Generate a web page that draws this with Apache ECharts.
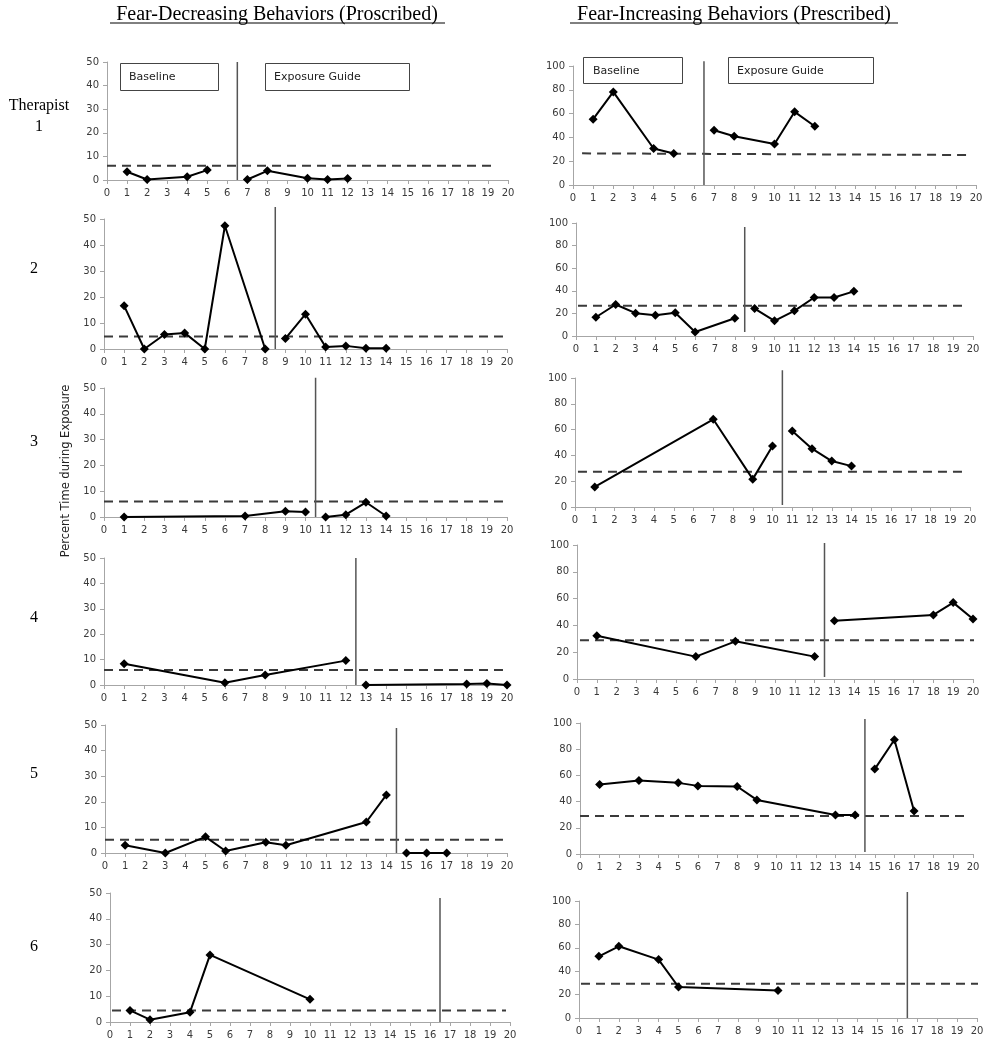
<!DOCTYPE html>
<html><head><meta charset="utf-8">
<script src="https://cdn.jsdelivr.net/npm/echarts@6/dist/echarts.min.js"></script>
<style>html,body{margin:0;padding:0;background:#fff}#c{width:989px;height:1050px}</style>
</head><body><div id="c"></div>
<script>
// ---------- DATA ----------
// Fear-Decreasing Behaviors (Proscribed), percent time, therapists 1-6
const dec1Sessions = [1, 2, 4, 5, 7, 8, 10, 11, 12];
const dec1Values   = [3.5, 0.2, 1.4, 4.2, 0.2, 3.9, 0.7, 0.2, 0.6];
const dec2Sessions = [1, 2, 3, 4, 5, 6, 8, 9, 10, 11, 12, 13, 14];
const dec2Values   = [16.6, 0, 5.6, 6.2, 0, 47.4, 0, 4.0, 13.4, 0.8, 1.2, 0.3, 0.3];
const dec3Sessions = [1, 7, 9, 10, 11, 12, 13, 14];
const dec3Values   = [0, 0.4, 2.2, 1.9, 0, 0.9, 5.7, 0.4];
const dec4Sessions = [1, 6, 8, 12, 13, 18, 19, 20];
const dec4Values   = [8.4, 0.9, 3.9, 9.6, 0, 0.4, 0.6, 0];
const dec5Sessions = [1, 3, 5, 6, 8, 9, 13, 14, 15, 16, 17];
const dec5Values   = [3.0, 0, 6.3, 0.8, 4.2, 3.0, 12.1, 22.7, 0, 0, 0];
const dec6Sessions = [1, 2, 4, 5, 10];
const dec6Values   = [4.5, 0.9, 3.8, 26.0, 8.8];

// Fear-Increasing Behaviors (Prescribed)
const inc1Sessions = [1, 2, 4, 5, 7, 8, 10, 11, 12];
const inc1Values   = [55.3, 78.2, 30.7, 26.5, 46.0, 41.0, 34.4, 61.5, 49.4];
const inc2Sessions = [1, 2, 3, 4, 5, 6, 8, 9, 10, 11, 12, 13, 14];
const inc2Values   = [16.6, 27.9, 20.2, 18.4, 20.5, 3.6, 15.7, 24.3, 13.4, 22.3, 34.1, 34.1, 39.5];
const inc3Sessions = [1, 7, 9, 10, 11, 12, 13, 14];
const inc3Values   = [15.6, 68.0, 21.6, 47.3, 59.0, 45.2, 35.6, 31.7];
const inc4Sessions = [1, 6, 8, 12, 13, 18, 19, 20];
const inc4Values   = [32.3, 16.7, 28.1, 16.7, 43.5, 47.8, 57.0, 44.8];
const inc5Sessions = [1, 3, 5, 6, 8, 9, 13, 14, 15, 16, 17];
const inc5Values   = [53.0, 56.1, 54.3, 52.0, 51.5, 41.3, 29.8, 29.8, 64.8, 87.2, 32.9];
const inc6Sessions = [1, 2, 4, 5, 10];
const inc6Values   = [52.7, 61.3, 49.9, 26.5, 23.4];

// Phase change (baseline -> Exposure Guide), between sessions
const phaseChange = [6.5, 8.5, 10.5, 12.5, 14.5, 16.5];
// Dashed criterion levels (start / end of line)
const decCriterionStart = [6.0, 4.8, 6.0, 5.9, 5.2, 4.5];
const decCriterionEnd   = [6.0, 4.8, 6.0, 5.9, 5.2, 4.5];
const incCriterionStart = [26.6, 26.7, 27.3, 29.0, 29.0, 29.3];
const incCriterionEnd   = [25.2, 26.7, 27.3, 29.0, 29.0, 29.3];

const rowLabels = ['1', '2', '3', '4', '5', '6'];
const decYMax = 50, decYStep = 10;
const incYMax = 100, incYStep = 20;
const xMax = 20;

// ---------- LAYOUT ----------
const decLayout = [
  {left:107, top:62,  width:401, height:118, pTop:50,   pBot:0, cS:0,   cE:19.25},
  {left:104, top:219, width:403, height:130, pTop:54.6, pBot:0, cS:0,   cE:19.8},
  {left:104, top:388, width:403, height:129, pTop:54,   pBot:0, cS:0,   cE:19.8},
  {left:104, top:558, width:403, height:127, pTop:50,   pBot:0, cS:0,   cE:19.8},
  {left:105, top:725, width:402, height:128, pTop:48.8, pBot:0, cS:0,   cE:19.8},
  {left:110, top:893, width:400, height:129, pTop:48.1, pBot:0, cS:0.1, cE:19.8}
];
const incLayout = [
  {left:573, top:66,  width:403, height:119, pTop:104,  pBot:0,   cS:0.45, cE:19.7},
  {left:576, top:223, width:397, height:113, pTop:96.5, pBot:3.5, cS:0.1,  cE:19.5},
  {left:575, top:378, width:395, height:129, pTop:106,  pBot:1.5, cS:0.15, cE:19.8},
  {left:577, top:545, width:396, height:134, pTop:101.5,pBot:1.5, cS:0.15, cE:20.2},
  {left:580, top:723, width:393, height:131, pTop:103,  pBot:1.5, cS:0,    cE:19.7},
  {left:579, top:901, width:398, height:117, pTop:107.7,pBot:0,   cS:0.1,  cE:20.2}
];

const decSessions = [dec1Sessions, dec2Sessions, dec3Sessions, dec4Sessions, dec5Sessions, dec6Sessions];
const decValues   = [dec1Values, dec2Values, dec3Values, dec4Values, dec5Values, dec6Values];
const incSessions = [inc1Sessions, inc2Sessions, inc3Sessions, inc4Sessions, inc5Sessions, inc6Sessions];
const incValues   = [inc1Values, inc2Values, inc3Values, inc4Values, inc5Values, inc6Values];

const axisGrey = '#a6a6a6';
const labelColor = '#3a3a3a';
const labelFont = 'DejaVu Sans';

const grids = [], xAxes = [], yAxes = [], series = [];

function addPanel(lay, sessions, values, phase, cStart, cEnd, yMax, yStep) {
  const i = grids.length;
  grids.push({left: lay.left, top: lay.top, width: lay.width, height: lay.height});
  xAxes.push({
    type: 'value', gridIndex: i, min: 0, max: xMax, interval: 1,
    splitLine: {show: false},
    axisLine: {lineStyle: {color: axisGrey, width: 1}},
    axisTick: {show: true, length: 4, lineStyle: {color: axisGrey}},
    axisLabel: {color: labelColor, fontFamily: labelFont, fontSize: 10, margin: 8}
  });
  yAxes.push({
    type: 'value', gridIndex: i, min: 0, max: yMax, interval: yStep,
    splitLine: {show: false},
    axisLine: {show: true, lineStyle: {color: axisGrey, width: 1}},
    axisTick: {show: true, length: 4, lineStyle: {color: axisGrey}},
    axisLabel: {color: labelColor, fontFamily: labelFont, fontSize: 10, margin: 8}
  });
  const base = [], expo = [];
  sessions.forEach((s, k) => { (s < phase ? base : expo).push([s, values[k]]); });
  const lineSeries = (d) => ({
    type: 'line', xAxisIndex: i, yAxisIndex: i, data: d,
    symbol: 'diamond', symbolSize: 9, showSymbol: true,
    itemStyle: {color: '#000'}, lineStyle: {color: '#000', width: 2},
    clip: false, animation: false, z: 5
  });
  series.push({
    type: 'line', xAxisIndex: i, yAxisIndex: i,
    data: [[lay.cS, cStart], [lay.cE, cEnd]], symbol: 'none',
    lineStyle: {color: '#3a3a3a', width: 2, type: [9, 6]},
    clip: false, animation: false, z: 3, silent: true
  });
  series.push({
    type: 'line', xAxisIndex: i, yAxisIndex: i,
    data: [[phase, lay.pBot], [phase, lay.pTop]], symbol: 'none',
    lineStyle: {color: '#555', width: 1.5},
    clip: false, animation: false, z: 3, silent: true
  });
  if (base.length) series.push(lineSeries(base));
  if (expo.length) series.push(lineSeries(expo));
}

for (let r = 0; r < 6; r++) {
  addPanel(decLayout[r], decSessions[r], decValues[r], phaseChange[r], decCriterionStart[r], decCriterionEnd[r], decYMax, decYStep);
  addPanel(incLayout[r], incSessions[r], incValues[r], phaseChange[r], incCriterionStart[r], incCriterionEnd[r], incYMax, incYStep);
}

const serif = '"Liberation Serif", "Times New Roman", serif';
const rowY = [127, 269, 442, 618, 774, 947];
const graphics = [
  {type:'text', x:277, y:15, style:{text:'Fear-Decreasing Behaviors (Proscribed)', font:'20px ' + serif, fill:'#000', align:'center', verticalAlign:'middle'}},
  {type:'line', shape:{x1:110, y1:23, x2:445, y2:23}, style:{stroke:'#000', lineWidth:1}},
  {type:'text', x:734, y:15, style:{text:'Fear-Increasing Behaviors (Prescribed)', font:'20px ' + serif, fill:'#000', align:'center', verticalAlign:'middle'}},
  {type:'line', shape:{x1:570, y1:23, x2:898, y2:23}, style:{stroke:'#000', lineWidth:1}},
  {type:'text', x:39, y:106, style:{text:'Therapist', font:'16px ' + serif, fill:'#000', align:'center', verticalAlign:'middle'}},
  {type:'text', x:66, y:471, rotation: Math.PI/2, style:{text:'Percent Time during Exposure', font:'11.5px "DejaVu Sans"', fill:'#222', align:'center', verticalAlign:'middle'}},
  {type:'rect', shape:{x:120.5, y:63.5, width:98, height:27}, style:{fill:'#fff', stroke:'#444', lineWidth:1}, z:10},
  {type:'text', x:129, y:77, style:{text:'Baseline', font:'11px "DejaVu Sans"', fill:'#222', align:'left', verticalAlign:'middle'}, z:11},
  {type:'rect', shape:{x:265.5, y:63.5, width:144, height:27}, style:{fill:'#fff', stroke:'#444', lineWidth:1}, z:10},
  {type:'text', x:274, y:77, style:{text:'Exposure Guide', font:'11px "DejaVu Sans"', fill:'#222', align:'left', verticalAlign:'middle'}, z:11},
  {type:'rect', shape:{x:583.5, y:57.5, width:99, height:26}, style:{fill:'#fff', stroke:'#444', lineWidth:1}, z:10},
  {type:'text', x:593, y:71, style:{text:'Baseline', font:'11px "DejaVu Sans"', fill:'#222', align:'left', verticalAlign:'middle'}, z:11},
  {type:'rect', shape:{x:728.5, y:57.5, width:145, height:26}, style:{fill:'#fff', stroke:'#444', lineWidth:1}, z:10},
  {type:'text', x:737, y:71, style:{text:'Exposure Guide', font:'11px "DejaVu Sans"', fill:'#222', align:'left', verticalAlign:'middle'}, z:11}
];
rowLabels.forEach((t, k) => {
  graphics.push({type:'text', x: k === 0 ? 39 : 34, y: rowY[k], style:{text:t, font:'16px ' + serif, fill:'#000', align:'center', verticalAlign:'middle'}});
});

const chart = echarts.init(document.getElementById('c'), null, {renderer: 'canvas'});
chart.setOption({
  backgroundColor: '#fff',
  animation: false,
  grid: grids, xAxis: xAxes, yAxis: yAxes, series: series,
  graphic: graphics
});
</script>
</body></html>
